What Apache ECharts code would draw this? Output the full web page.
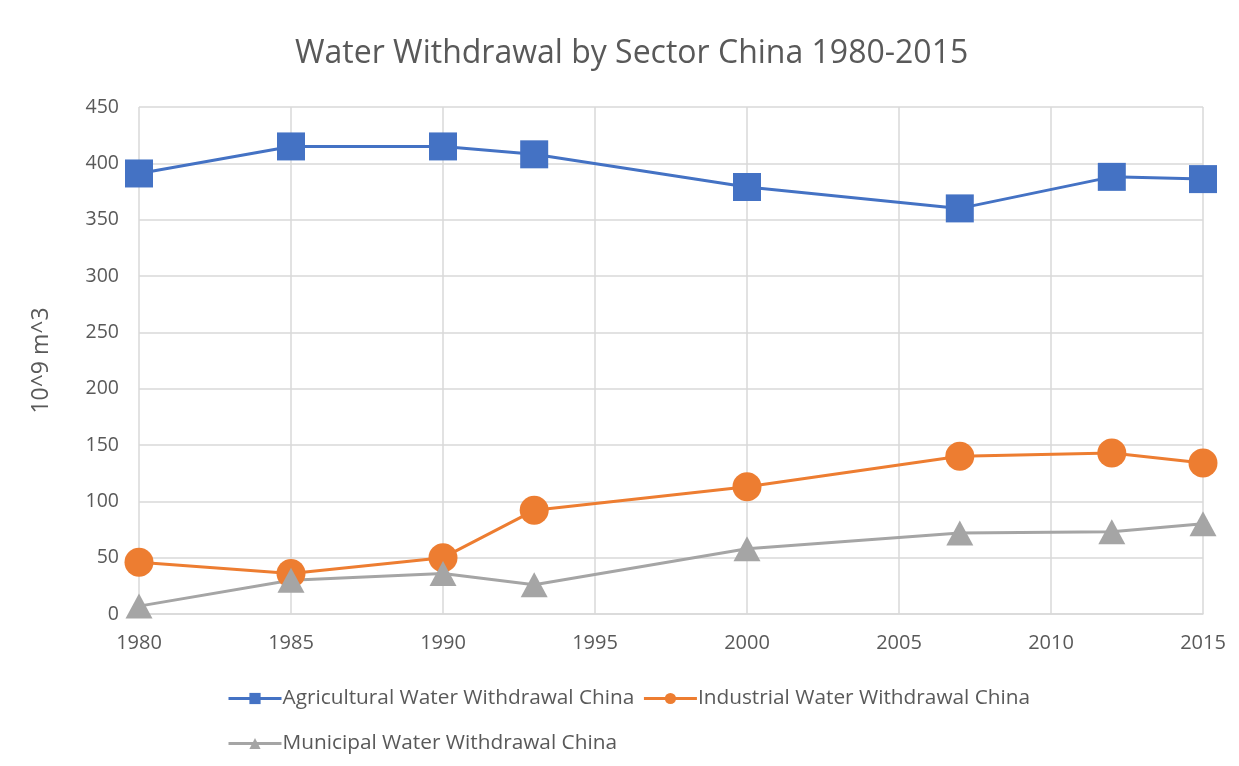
<!DOCTYPE html>
<html>
<head>
<meta charset="utf-8">
<title>Water Withdrawal by Sector China 1980-2015</title>
<script src="https://cdn.jsdelivr.net/npm/echarts@6/dist/echarts.min.js"></script>
<style>
  html, body { margin: 0; padding: 0; background: #fff; }
  #chart { width: 1239px; height: 766px; }
</style>
</head>
<body>
<div id="chart"></div>
<script>
// 数据：年份与各部门取水量 (10^9 m^3)
const years = [1980, 1985, 1990, 1993, 2000, 2007, 2012, 2015]
const agricultural = [391, 415, 415, 408, 379, 360, 388, 386]
const industrial = [46, 36, 50, 92, 113, 140, 143, 134]
const municipal = [7, 30, 36, 26, 58, 72, 73, 80]

const seriesNames = [
  'Agricultural Water Withdrawal China',
  'Industrial Water Withdrawal China',
  'Municipal Water Withdrawal China'
]

const font = '"Open Sans", Lato, sans-serif'
const textColor = '#595959'
const gridColor = '#d9d9d9'

function pairs (values) {
  return years.map((y, i) => [y, values[i]])
}

const chartObj = echarts.init(document.getElementById('chart'))

const legendText = { fontFamily: font, fontSize: 20.8, color: textColor, padding: [0, 0, 0, -4] }

const option = {
  animation: false,
  textStyle: { fontFamily: font },
  title: {
    text: 'Water Withdrawal by Sector China 1980-2015',
    left: 290,
    top: 33,
    textStyle: { fontFamily: font, fontSize: 32, fontWeight: 'normal', color: textColor }
  },
  legend: [
    {
      data: [seriesNames[0], seriesNames[1]],
      left: 222,
      top: 683,
      itemWidth: 53,
      itemHeight: 14,
      itemGap: 8,
      lineStyle: { width: 3 },
      textStyle: legendText
    },
    {
      data: [seriesNames[2]],
      left: 222,
      top: 728,
      itemWidth: 53,
      itemHeight: 14,
      lineStyle: { width: 3 },
      textStyle: legendText
    }
  ],
  grid: { left: 139, right: 36, top: 107, bottom: 152 },
  xAxis: {
    type: 'value',
    min: 1980,
    max: 2015,
    interval: 5,
    axisLine: { show: true, lineStyle: { color: gridColor, width: 1.5 } },
    axisTick: { show: false },
    axisLabel: {
      color: textColor,
      fontSize: 20,
      margin: 19,
      formatter: v => String(v)
    },
    splitLine: { show: true, lineStyle: { color: gridColor, width: 1.5 } }
  },
  yAxis: {
    type: 'value',
    min: 0,
    max: 450,
    interval: 50,
    name: '10^9 m^3',
    nameLocation: 'middle',
    nameGap: 86,
    nameTextStyle: { fontFamily: font, fontSize: 23, color: textColor },
    axisLine: { show: false },
    axisTick: { show: false },
    axisLabel: { color: textColor, fontSize: 19.5, margin: 20 },
    splitLine: { lineStyle: { color: gridColor, width: 1.5 } }
  },
  series: [
    {
      name: seriesNames[0],
      type: 'line',
      data: pairs(agricultural),
      symbol: 'rect',
      symbolSize: 28,
      itemStyle: { color: '#4472C4' },
      lineStyle: { width: 3, color: '#4472C4' }
    },
    {
      name: seriesNames[1],
      type: 'line',
      data: pairs(industrial),
      symbol: 'circle',
      symbolSize: 29,
      itemStyle: { color: '#ED7D31' },
      lineStyle: { width: 3, color: '#ED7D31' }
    },
    {
      name: seriesNames[2],
      type: 'line',
      data: pairs(municipal),
      symbol: 'triangle',
      symbolSize: [27, 25],
      itemStyle: { color: '#A5A5A5' },
      lineStyle: { width: 3, color: '#A5A5A5' }
    }
  ]
}

chartObj.setOption(option)
</script>
</body>
</html>
